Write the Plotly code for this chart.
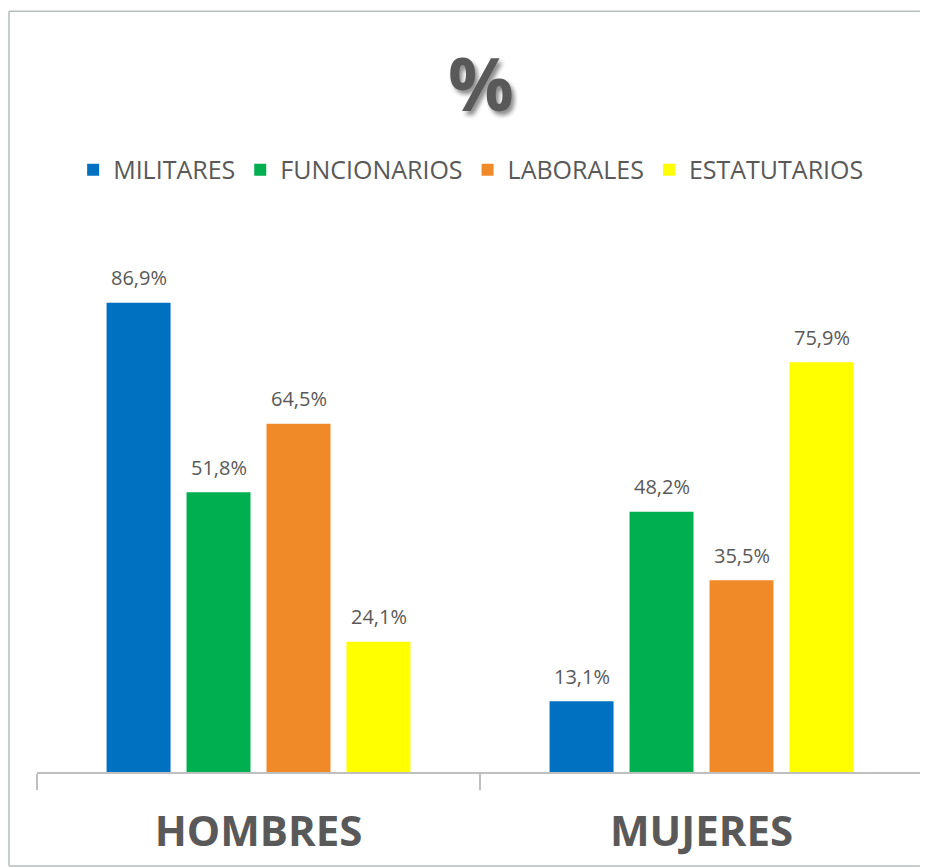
import plotly.graph_objects as go

categories = ["HOMBRES", "MUJERES"]
series_names = ["MILITARES", "FUNCIONARIOS", "LABORALES", "ESTATUTARIOS"]
militares = [86.9, 13.1]
funcionarios = [51.8, 48.2]
laborales = [64.5, 35.5]
estatutarios = [24.1, 75.9]
colors = ["#0070C0", "#00B050", "#F08A28", "#FFFF00"]

TEXT = "#595959"
FONT = "Open Sans"

all_series = [militares, funcionarios, laborales, estatutarios]
fig = go.Figure()
for name, vals, col in zip(series_names, all_series, colors):
    fig.add_trace(go.Bar(
        x=categories, y=vals, name=name,
        marker=dict(color=col, line=dict(width=0)),
    ))

# data labels above each bar
annotations = []
shifts = [-120, -40, 40, 120]
for vals, sh in zip(all_series, shifts):
    for cat, v in zip(categories, vals):
        annotations.append(dict(
            x=cat, y=v, xref="x", yref="y", text=f"{v:.1f}%".replace(".", ","),
            showarrow=False, xshift=sh, yshift=25, yanchor="middle",
            font=dict(family=FONT, size=20, color=TEXT),
        ))

border = dict(color="#b4bcbc", width=1.5)
fig.update_layout(
    width=920, height=860,
    paper_bgcolor="white", plot_bgcolor="white",
    separators=",.",
    margin=dict(l=29, r=5, t=224, b=96),
    barmode="group", bargap=0.278, bargroupgap=0.2,
    title=dict(text="<b>%</b>", x=0.514, xanchor="center", y=1 - 77 / 860, yanchor="middle",
               font=dict(family=FONT, size=73, color=TEXT,
                         shadow="3px 4px 4px rgba(0,0,0,0.45)")),
    legend=dict(orientation="h", x=0.49, xanchor="center", y=1.115, yanchor="middle",
                font=dict(family=FONT, size=25, color=TEXT), itemclick=False,
                traceorder="normal", itemwidth=30),
    showlegend=True,
    annotations=annotations,
    shapes=[
        dict(type="line", xref="paper", yref="paper", x0=-0.0316, x1=1.05, y0=1.409, y1=1.409, line=border),
        dict(type="line", xref="paper", yref="paper", x0=-0.0316, x1=-0.0316, y0=-0.174, y1=1.409, line=border),
        dict(type="line", xref="paper", yref="paper", x0=-0.0316, x1=1.05, y0=-0.174, y1=-0.174, line=border),
    ],
)
fig.update_xaxes(
    type="category", showline=True, linecolor="#bfbfbf", linewidth=1.5,
    ticks="outside", tickson="boundaries", ticklen=16, tickcolor="#bfbfbf", tickwidth=1.5,
    tickfont=dict(family=FONT, size=42, color=TEXT, weight="bold"),
    ticklabelstandoff=22,
    showgrid=False,
)
fig.update_yaxes(range=[0, 100], visible=False, showgrid=False)

fig.write_html("out.html")
